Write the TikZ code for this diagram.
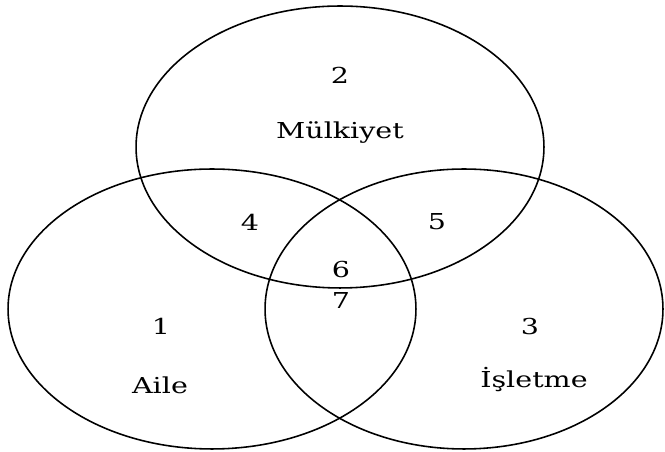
\documentclass[tikz,border=0pt]{standalone}
\usepackage{fontspec}
\setmainfont{DejaVu Serif}
\usepackage{graphicx}
\usepackage{tikz}

\newcommand{\widetxt}[1]{\scalebox{1.3}[1.0]{#1}}

\begin{document}
\begin{tikzpicture}[
  x=0.02cm, y=0.02cm,
  set/.style={draw, line width=0.9pt},
  lbl/.style={font=\fontsize{12.5}{14}\selectfont, inner sep=0pt},
]
\useasboundingbox (0,0) rectangle (665,452);
% Sets
\draw[set] (340,305) ellipse [x radius=4.08cm, y radius=2.82cm];
\draw[set] (212,143) ellipse [x radius=4.08cm, y radius=2.80cm];
\draw[set] (464,143) ellipse [x radius=3.98cm, y radius=2.80cm];

% Region numbers and names
\node[lbl] (n2) at (340,377) {\widetxt{2}};
\node[lbl] (mulkiyet) at (340,319) {\widetxt{Mülkiyet}};
\node[lbl] (n4) at (250,230) {\widetxt{4}};
\node[lbl] (n5) at (437,230) {\widetxt{5}};
\node[lbl] (n6) at (341,182) {\widetxt{6}};
\node[lbl] (n7) at (341,152) {\widetxt{7}};
\node[lbl] (n1) at (161,126) {\widetxt{1}};
\node[lbl] (n3) at (530,125) {\widetxt{3}};
\node[lbl] (aile) at (160,67) {\widetxt{Aile}};
\node[lbl] (isletme) at (534,72) {\widetxt{İşletme}};
\end{tikzpicture}
\end{document}
